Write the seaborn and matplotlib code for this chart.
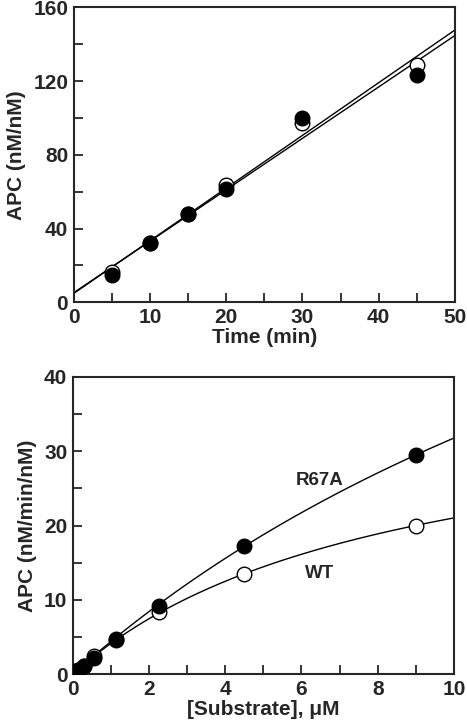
import numpy as np
import pandas as pd
import matplotlib
matplotlib.use("Agg")
import matplotlib.pyplot as plt
import seaborn as sns
from matplotlib.ticker import MultipleLocator

# ---- data ----
time_min = [5, 10, 15, 20, 30, 45]
apc_filled = [15, 32, 48, 61.5, 100, 123.5]
apc_open = [16.5, 32, 48, 63.5, 97.5, 128.5]

substrate_uM = [0.14, 0.28, 0.56, 1.125, 2.25, 4.5, 9.0]
rate_wt = [0.6, 1.1, 2.4, 4.7, 8.4, 13.5, 20.0]
rate_r67a = [0.5, 1.1, 2.2, 4.6, 9.2, 17.2, 29.5]

# Michaelis-Menten fit parameters (Vmax, Km)
mm_wt = (38.6, 8.36)
mm_r67a = (103.6, 22.6)

sns.set_style("ticks")
plt.rcParams['font.family'] = ['Liberation Sans', 'DejaVu Sans']
plt.rcParams['font.weight'] = 'bold'
plt.rcParams['axes.labelweight'] = 'bold'

TICK_FS = 15
LAB_FS = 15

fig = plt.figure(figsize=(4.67, 7.25), dpi=100)
ax1 = fig.add_axes([0.158, 0.583, 0.816, 0.407])
ax2 = fig.add_axes([0.156, 0.0703, 0.816, 0.4097])

def style(ax):
    for s in ax.spines.values():
        s.set_linewidth(1.5)
        s.set_visible(True)
    ax.tick_params(which='both', direction='in', length=6.5, width=1.3,
                   top=False, right=False, labelsize=TICK_FS, pad=4)
    for lab in ax.get_xticklabels() + ax.get_yticklabels():
        lab.set_fontweight('bold')

# ---- top panel ----
df1 = pd.DataFrame({"t": time_min * 2,
                    "y": apc_open + apc_filled,
                    "s": ["open"] * 6 + ["filled"] * 6})
xs = np.array([0, 50])
for yv in (apc_open, apc_filled):
    k, b = np.polyfit(time_min, yv, 1)
    sns.lineplot(x=xs, y=k * xs + b, ax=ax1, color='black', lw=1.0)
sns.scatterplot(data=df1[df1.s == "open"], x="t", y="y", ax=ax1, s=110,
                color='white', edgecolor='black', linewidth=1.0, zorder=3)
sns.scatterplot(data=df1[df1.s == "filled"], x="t", y="y", ax=ax1, s=110,
                color='black', edgecolor='black', linewidth=1.0, zorder=4)
ax1.set_xlim(0, 50)
ax1.set_ylim(0, 160)
ax1.xaxis.set_major_locator(MultipleLocator(10))
ax1.xaxis.set_minor_locator(MultipleLocator(5))
ax1.yaxis.set_major_locator(MultipleLocator(40))
ax1.yaxis.set_minor_locator(MultipleLocator(20))
ax1.set_xlabel("Time (min)", fontsize=LAB_FS, fontweight='bold', labelpad=1)
ax1.set_ylabel("APC (nM/nM)", fontsize=LAB_FS, fontweight='bold', labelpad=5)
style(ax1)

# ---- bottom panel ----
sx = np.linspace(0, 10, 200)
for vm, km in (mm_wt, mm_r67a):
    sns.lineplot(x=sx, y=vm * sx / (km + sx), ax=ax2, color='black', lw=1.0)
df2 = pd.DataFrame({"S": substrate_uM * 2, "v": rate_wt + rate_r67a,
                    "g": ["WT"] * 7 + ["R67A"] * 7})
sns.scatterplot(data=df2[df2.g == "WT"], x="S", y="v", ax=ax2, s=110,
                color='white', edgecolor='black', linewidth=1.0, zorder=3)
sns.scatterplot(data=df2[df2.g == "R67A"], x="S", y="v", ax=ax2, s=110,
                color='black', edgecolor='black', linewidth=1.0, zorder=4)
ax2.text(6.47, 26.1, "R67A", ha='center', va='center', fontsize=13.5, fontweight='bold')
ax2.text(6.47, 13.5, "WT", ha='center', va='center', fontsize=13.5, fontweight='bold')
ax2.set_xlim(0, 10)
ax2.set_ylim(0, 40)
ax2.xaxis.set_major_locator(MultipleLocator(2))
ax2.xaxis.set_minor_locator(MultipleLocator(1))
ax2.yaxis.set_major_locator(MultipleLocator(10))
ax2.yaxis.set_minor_locator(MultipleLocator(5))
ax2.set_xlabel("[Substrate], μM", fontsize=LAB_FS, fontweight='bold', labelpad=1)
ax2.set_ylabel("APC (nM/min/nM)", fontsize=LAB_FS, fontweight='bold', labelpad=5)
style(ax2)

fig.savefig("out.png", dpi=100)
